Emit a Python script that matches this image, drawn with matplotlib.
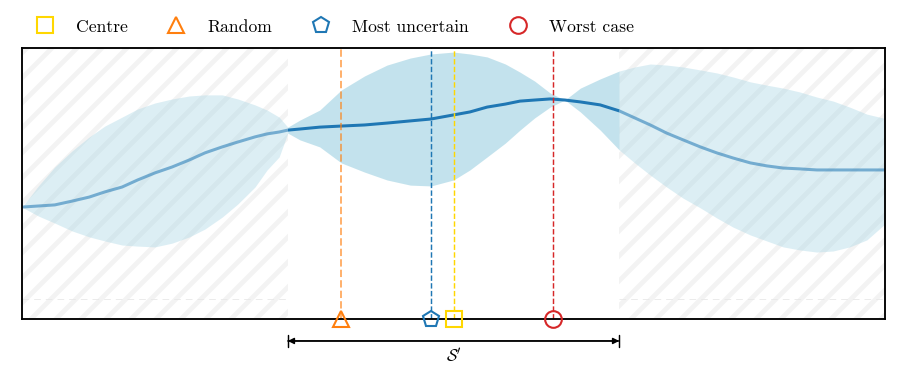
import matplotlib
matplotlib.use("Agg")
import matplotlib.pyplot as plt
from matplotlib.lines import Line2D
from matplotlib.patches import Rectangle

plt.rcParams['font.family'] = ['cmr10', 'DejaVu Serif']
plt.rcParams['mathtext.fontset'] = 'cm'
plt.rcParams['hatch.linewidth'] = 4.5

# GP posterior (x in [0, 10], y in [0, 10])
x = [0.00, 0.19, 0.38, 0.58, 0.78, 0.96, 1.16, 1.34, 1.54, 1.74, 1.94, 2.12,
     2.32, 2.50, 2.70, 2.84, 2.98, 3.08,
     3.22, 3.45, 3.70, 3.97, 4.23, 4.50, 4.74, 5.00, 5.19, 5.39, 5.60, 5.77,
     5.94, 6.12, 6.29, 6.47, 6.70, 6.92,
     7.10, 7.28, 7.47, 7.66, 7.86, 8.05, 8.24, 8.44, 8.63, 8.82, 9.01, 9.21,
     9.40, 9.59, 9.79, 10.00]
mean = [4.13, 4.17, 4.21, 4.35, 4.50, 4.69, 4.87, 5.13, 5.39, 5.61, 5.87, 6.13,
        6.35, 6.53, 6.72, 6.83, 6.90, 6.97,
        7.01, 7.08, 7.12, 7.16, 7.23, 7.31, 7.38, 7.53, 7.64, 7.82, 7.93, 8.04,
        8.08, 8.12, 8.08, 8.01, 7.90, 7.68,
        7.42, 7.16, 6.86, 6.61, 6.35, 6.13, 5.94, 5.76, 5.65, 5.57, 5.54, 5.50,
        5.50, 5.50, 5.50, 5.50]
upper = [4.13, 4.91, 5.61, 6.20, 6.72, 7.12, 7.45, 7.75, 7.97, 8.12, 8.23, 8.27,
         8.27, 8.12, 7.90, 7.71, 7.45, 7.08,
         7.34, 7.71, 8.45, 8.97, 9.37, 9.63, 9.78, 9.85, 9.78, 9.67, 9.41, 9.11,
         8.78, 8.34, 8.08, 8.52, 8.86, 9.15,
         9.30, 9.41, 9.37, 9.30, 9.19, 9.08, 8.93, 8.75, 8.63, 8.52, 8.38, 8.19,
         8.04, 7.82, 7.56, 7.40]
lower = [4.13, 3.80, 3.54, 3.25, 3.03, 2.88, 2.73, 2.69, 2.66, 2.80, 3.03, 3.32,
         3.76, 4.24, 4.87, 5.50, 5.98, 6.86,
         6.61, 6.35, 5.76, 5.42, 5.13, 4.94, 4.91, 5.13, 5.50, 5.98, 6.49, 6.97,
         7.42, 7.82, 8.08, 7.64, 6.97, 6.24,
         5.76, 5.31, 4.87, 4.46, 4.10, 3.73, 3.39, 3.10, 2.88, 2.66, 2.55, 2.47,
         2.51, 2.66, 2.92, 3.51]

s_lo, s_hi = 3.08, 6.92   # the sub-domain S'

names = ['Centre', 'Random', 'Most uncertain', 'Worst case']
picks = [5.00, 3.70, 4.74, 6.15]
markers = ['s', '^', 'p', 'o']
colors = ['#ffd700', '#ff7f0e', '#1f77b4', '#d62728']

fig = plt.figure(figsize=(908 / 75, 380 / 75), dpi=75)
ax = fig.add_axes([0.0242, 0.1605, 0.9505, 0.7132])
ax.set_xlim(0, 10)
ax.set_ylim(0, 10)

# hatched background outside S'
for a, b in [(0, s_lo), (s_hi, 10)]:
    ax.add_patch(Rectangle((a, 0), b - a, 10, facecolor='white',
                           edgecolor='#f3f3f3', lw=0, hatch='/', zorder=0))
    ax.plot([a, b], [0.72, 0.72], color='#e8e8e8', lw=0.8, ls=(0, (8, 6)),
            zorder=0.5)

out_l = [xi <= s_lo for xi in x]
out_r = [xi >= s_hi for xi in x]
ins = [s_lo <= xi <= s_hi for xi in x]

ax.fill_between(x, lower, upper, where=ins, color='#add8e6', alpha=0.72,
                lw=0, zorder=1)
for w in (out_l, out_r):
    ax.fill_between(x, lower, upper, where=w, color='#add8e6', alpha=0.42,
                    lw=0, zorder=1)
    xs = [xi for xi, k in zip(x, w) if k]
    ms_ = [mi for mi, k in zip(mean, w) if k]
    ax.plot(xs, ms_, color='#1f77b4', lw=2.9, alpha=0.55, zorder=2,
            solid_capstyle='butt')
xs = [xi for xi, k in zip(x, ins) if k]
ms_ = [mi for mi, k in zip(mean, ins) if k]
ax.plot(xs, ms_, color='#1f77b4', lw=2.9, zorder=2, solid_capstyle='butt')

for name, px, m, c in zip(names, picks, markers, colors):
    if name == 'Random':
        ax.axvline(px, color=c, ls='--', lw=1.9, alpha=0.6, zorder=4)
    else:
        ax.axvline(px, color=c, ls='--', lw=1.4, zorder=4)
    ax.plot([px], [0], marker=m, ms=16, mfc='none', mec=c, mew=2.0,
            ls='none', clip_on=False, zorder=6)

for sp in ax.spines.values():
    sp.set_linewidth(1.8)
    sp.set_zorder(5)
ax.set_xticks([])
ax.set_yticks([])

ax.annotate('', xy=(s_lo, -0.81), xytext=(s_hi, -0.81), annotation_clip=False,
            arrowprops=dict(arrowstyle='<|-|>', color='black', lw=1.4,
                            shrinkA=0, shrinkB=0, mutation_scale=12))
ax.annotate('', xy=(s_lo, -0.81), xytext=(s_hi, -0.81), annotation_clip=False,
            arrowprops=dict(arrowstyle='|-|', color='black', lw=1.4,
                            shrinkA=0, shrinkB=0, mutation_scale=6))
ax.text((s_lo + s_hi) / 2, -1.37, r"$\mathcal{S}'$", ha='center',
        va='center', fontsize=16)

handles = [Line2D([], [], marker=m, ms=16, mfc='none', mec=c, mew=2.0, ls='none')
           for m, c in zip(markers, colors)]
fig.legend(handles, names, loc='center left', bbox_to_anchor=(0.022, 0.929),
           ncol=4, frameon=False, fontsize=16.9, handletextpad=1.26,
           columnspacing=2.28, handlelength=1.0)

fig.savefig('out.png', dpi=75)
